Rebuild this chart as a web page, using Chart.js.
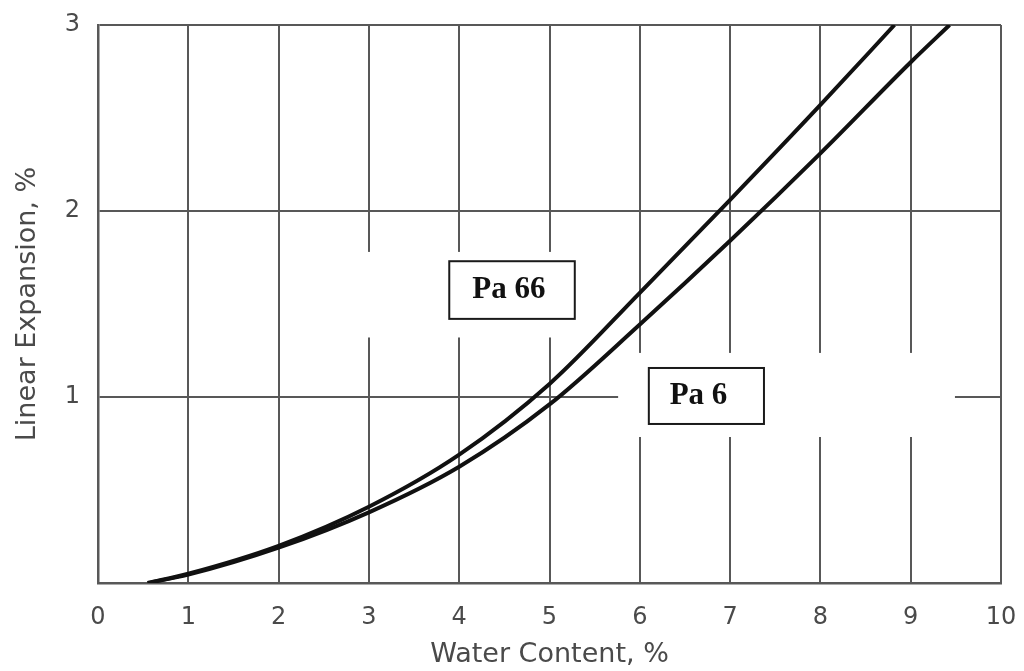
<!DOCTYPE html>
<html>
<head>
<meta charset="utf-8">
<title>Linear Expansion vs Water Content</title>
<script src="https://cdn.jsdelivr.net/npm/chart.js@4/dist/chart.umd.min.js"></script>
<style>
  html, body { margin: 0; padding: 0; background: #ffffff; }
  canvas { display: block; }
</style>
</head>
<body>
<canvas id="chart" width="1024" height="671"></canvas>
<script>
// Water content (%) and linear expansion (%) for the two polyamides
const waterPa66 = [0.55, 1, 2, 3, 4, 5, 6, 7, 8, 8.82];
const expansionPa66 = [0, 0.05, 0.2, 0.41, 0.69, 1.07, 1.56, 2.06, 2.57, 3.0];

const waterPa6 = [0.55, 1, 2, 3, 4, 5, 6, 7, 8, 9, 9.43];
const expansionPa6 = [0, 0.045, 0.19, 0.38, 0.625, 0.96, 1.39, 1.84, 2.31, 2.8, 3.0];

const seriesNames = ['Pa 66', 'Pa 6'];

const xTicks = [0, 1, 2, 3, 4, 5, 6, 7, 8, 9, 10];
const yTicks = [0, 1, 2, 3];

const toPoints = (xs, ys) => xs.map((x, i) => ({ x: x, y: ys[i] }));

const GRID = '#585858';
const INK = '#111111';
const LABEL = '#4a4a4a';

// White areas behind the curve labels (grid lines are interrupted there)
const clearAreas = [
  { x0: 2.45, x1: 5.3, y0: 1.32, y1: 1.78 },
  { x0: 5.76, x1: 9.49, y0: 0.785, y1: 1.237 }
];

// Boxed curve labels
const curveLabels = [
  { text: seriesNames[0], x0: 3.89, x1: 5.28, y0: 1.42, y1: 1.73, tx: 4.55, ty: 1.575 },
  { text: seriesNames[1], x0: 6.10, x1: 7.375, y0: 0.855, y1: 1.156, tx: 6.65, ty: 1.005 }
];

const labelPlugin = {
  id: 'curveLabels',
  beforeDatasetsDraw(chart) {
    const { ctx, scales: { x, y } } = chart;
    ctx.save();
    ctx.fillStyle = '#ffffff';
    clearAreas.forEach(a => {
      const l = x.getPixelForValue(a.x0), r = x.getPixelForValue(a.x1);
      const t = y.getPixelForValue(a.y1), b = y.getPixelForValue(a.y0);
      ctx.fillRect(l, t, r - l, b - t);
    });
    ctx.restore();
  },
  afterDatasetsDraw(chart) {
    const { ctx, scales: { x, y } } = chart;
    ctx.save();
    curveLabels.forEach(c => {
      const l = x.getPixelForValue(c.x0), r = x.getPixelForValue(c.x1);
      const t = y.getPixelForValue(c.y1), b = y.getPixelForValue(c.y0);
      ctx.fillStyle = '#ffffff';
      ctx.fillRect(l, t, r - l, b - t);
      ctx.strokeStyle = '#1a1a1a';
      ctx.lineWidth = 2;
      ctx.strokeRect(l, t, r - l, b - t);
      ctx.fillStyle = INK;
      ctx.font = 'bold 31px "Liberation Serif", "Times New Roman", serif';
      ctx.textAlign = 'center';
      ctx.textBaseline = 'middle';
      ctx.fillText(c.text, x.getPixelForValue(c.tx), y.getPixelForValue(c.ty));
    });
    ctx.restore();
  }
};

new Chart(document.getElementById('chart'), {
  type: 'line',
  data: {
    datasets: [
      {
        label: seriesNames[0],
        data: toPoints(waterPa66, expansionPa66),
        borderColor: INK,
        borderWidth: 4,
        pointRadius: 0,
        cubicInterpolationMode: 'monotone',
        fill: false
      },
      {
        label: seriesNames[1],
        data: toPoints(waterPa6, expansionPa6),
        borderColor: INK,
        borderWidth: 4,
        pointRadius: 0,
        cubicInterpolationMode: 'monotone',
        fill: false
      }
    ]
  },
  options: {
    responsive: false,
    animation: false,
    events: [],
    layout: { padding: { left: 0, right: 23, top: 25, bottom: 0 } },
    plugins: {
      legend: { display: false },
      tooltip: { enabled: false }
    },
    scales: {
      x: {
        type: 'linear',
        min: 0,
        max: 10,
        afterBuildTicks: s => { s.ticks = xTicks.map(v => ({ value: v })); },
        afterFit: s => { s.height = 88; s.paddingLeft = 0; s.paddingRight = 0; },
        grid: { color: GRID, lineWidth: 2, drawTicks: false },
        border: { color: GRID, width: 2.5 },
        ticks: {
          color: LABEL,
          padding: 20,
          maxRotation: 0,
          font: { family: '"DejaVu Sans", sans-serif', size: 24 }
        },
        title: {
          display: true,
          text: 'Water Content, %',
          color: LABEL,
          padding: { top: 4, bottom: 0 },
          font: { family: '"DejaVu Sans", sans-serif', size: 27 }
        }
      },
      y: {
        type: 'linear',
        min: 0,
        max: 3,
        afterBuildTicks: s => { s.ticks = yTicks.map(v => ({ value: v })); },
        afterFit: s => { s.width = 98; s.paddingTop = 0; s.paddingBottom = 0; },
        grid: { color: GRID, lineWidth: 2, drawTicks: false },
        border: { color: GRID, width: 2.5 },
        ticks: {
          color: LABEL,
          padding: 18,
          callback: v => (v === 0 ? '' : v),
          font: { family: '"DejaVu Sans", sans-serif', size: 24 }
        },
        title: {
          display: true,
          text: 'Linear Expansion, %',
          color: LABEL,
          padding: { top: 12, bottom: 0 },
          font: { family: '"DejaVu Sans", sans-serif', size: 27 }
        }
      }
    }
  },
  plugins: [labelPlugin]
});
</script>
</body>
</html>
